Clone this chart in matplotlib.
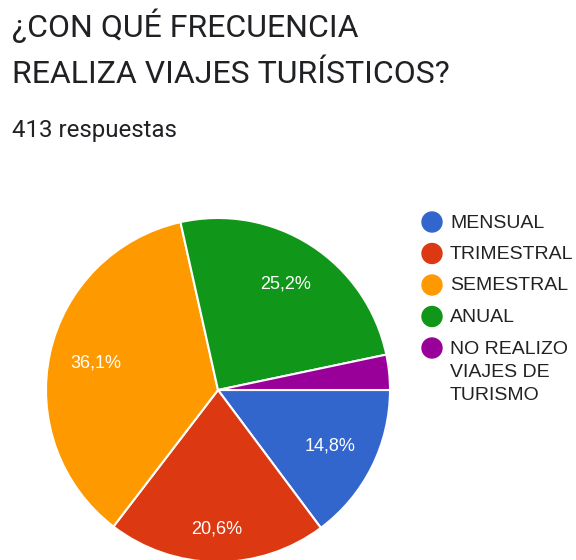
import matplotlib
matplotlib.use("Agg")
import matplotlib.pyplot as plt
import numpy as np
from matplotlib.patches import Circle

categories = ["MENSUAL", "TRIMESTRAL", "SEMESTRAL", "ANUAL", "NO REALIZO\nVIAJES DE\nTURISMO"]
share = [14.8, 20.6, 36.1, 25.2, 3.3]
colors = ["#3366cc", "#dc3912", "#ff9900", "#109618", "#990099"]

title = "¿CON QUÉ FRECUENCIA\nREALIZA VIAJES TURÍSTICOS?"
subtitle = "413 respuestas"

W, H = 576, 560
fig = plt.figure(figsize=(W / 100, H / 100), dpi=100)
ax = fig.add_axes([0, 0, 1, 1])


def Y(y):
    # image rows (top down) -> axis units (bottom up)
    return H - y


def pct(p):
    if p < 5:
        return ""
    return f"{p:.1f}%".replace(".", ",")


cx, cy, r = 218, Y(390), 172
wedges, texts, autotexts = ax.pie(
    share, colors=colors, startangle=0, counterclock=False,
    center=(cx, cy), radius=r, autopct=pct, pctdistance=0.73,
    wedgeprops=dict(edgecolor="white", linewidth=1.5),
    textprops=dict(color="white", fontsize=13, family="Liberation Sans"),
)
# the bottom label sits further out in the original
w = wedges[1]
a = np.deg2rad((w.theta1 + w.theta2) / 2)
autotexts[1].set_position((cx + 0.81 * r * np.cos(a), cy + 0.81 * r * np.sin(a)))

ax.set_xlim(0, W)
ax.set_ylim(0, H)
ax.axis("off")

# multi-line baseline text is anchored on its last line
ax.text(12, Y(83), title, fontsize=23, family="Roboto", color="#202124",
        va="baseline", ha="left", linespacing=1.76)
ax.text(12, Y(137), subtitle, fontsize=17.3, family="Roboto", color="#202124",
        va="baseline", ha="left")

# legend
for i, (lab, c) in enumerate(zip(categories, colors)):
    ly = 222 + i * 31.5
    ax.add_patch(Circle((432, Y(ly)), 10, color=c))
    ax.text(450, Y(ly - 7.5), lab, fontsize=14, family="Liberation Sans",
            color="#222222", va="top", ha="left", linespacing=1.5)

fig.savefig("out.png", dpi=100)
